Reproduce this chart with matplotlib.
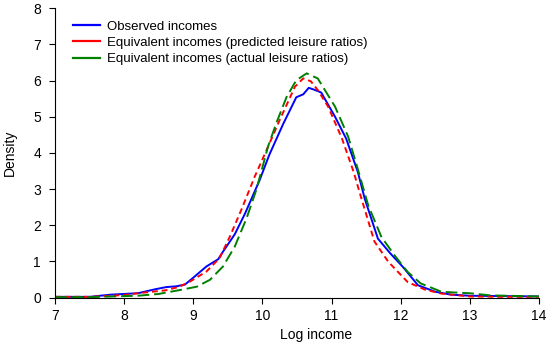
"""Density of log income: observed vs equivalent incomes."""

import numpy as np
import matplotlib
matplotlib.use('Agg')
import matplotlib.pyplot as plt
from matplotlib.lines import Line2D

plt.rcParams['font.family'] = ['Liberation Sans', 'DejaVu Sans']
plt.rcParams['font.size'] = 9.5

# Observed incomes
obs_x = [7.0, 7.5, 7.8, 8.0, 8.2, 8.45, 8.61, 8.75, 8.88, 9.0, 9.19, 9.36, 9.43,
         9.6, 9.75, 9.96, 10.1, 10.3, 10.49, 10.59, 10.67, 10.76, 10.85, 11.05,
         11.21, 11.38, 11.48, 11.67, 11.85, 12.03, 12.25, 12.5, 12.73, 13.0,
         13.5, 14.0]
obs_y = [0.02, 0.02, 0.08, 0.10, 0.12, 0.23, 0.29, 0.31, 0.36, 0.55, 0.86, 1.06,
         1.27, 1.75, 2.33, 3.25, 3.95, 4.80, 5.54, 5.62, 5.80, 5.74, 5.67, 5.00,
         4.40, 3.47, 2.73, 1.63, 1.22, 0.85, 0.34, 0.16, 0.08, 0.05, 0.04, 0.03]

# Equivalent incomes, predicted leisure ratios
pred_x = [7.0, 7.5, 8.0, 8.2, 8.6, 8.8, 8.95, 9.19, 9.38, 9.53, 9.7, 9.89,
          10.06, 10.25, 10.47, 10.59, 10.7, 10.8, 10.95, 11.15, 11.32, 11.43,
          11.62, 11.82, 12.1, 12.35, 12.59, 13.0, 13.5, 14.0]
pred_y = [0.02, 0.02, 0.07, 0.12, 0.20, 0.30, 0.44, 0.72, 1.09, 1.69, 2.45, 3.35,
          4.08, 4.91, 5.83, 6.06, 5.98, 5.74, 5.28, 4.40, 3.47, 2.75, 1.55, 0.99,
          0.43, 0.22, 0.11, 0.03, 0.02, 0.02]

# Equivalent incomes, actual leisure ratios
act_x = [7.0, 7.5, 8.0, 8.2, 8.5, 8.81, 9.05, 9.24, 9.43, 9.6, 9.77, 9.91, 9.99,
         10.08, 10.2, 10.35, 10.49, 10.64, 10.8, 11.05, 11.24, 11.38, 11.53,
         11.72, 11.91, 12.1, 12.29, 12.59, 12.88, 13.0, 13.3, 14.0]
act_y = [0.01, 0.01, 0.04, 0.05, 0.10, 0.21, 0.30, 0.49, 0.86, 1.41, 2.19, 2.97,
         3.53, 4.17, 4.82, 5.55, 6.01, 6.20, 6.06, 5.28, 4.45, 3.55, 2.55, 1.68,
         1.17, 0.71, 0.39, 0.16, 0.13, 0.12, 0.06, 0.03]

labels = ['Observed incomes',
          'Equivalent incomes (predicted leisure ratios)',
          'Equivalent incomes (actual leisure ratios)']
colors = ['#0000ff', '#ff0000', '#008000']

fig = plt.figure(figsize=(5.5, 3.44), dpi=100)
ax = fig.add_axes([0.1, 0.135, 0.88, 0.841])

ax.plot(obs_x, obs_y, color=colors[0], lw=1.4)
ax.plot(pred_x, pred_y, color=colors[1], lw=1.4, dashes=(3, 2))
ax.plot(act_x, act_y, color=colors[2], lw=1.4, dashes=(6, 2.5))

ax.set_xlim(7, 14)
ax.set_ylim(0, 8)
ax.set_xticks(np.arange(7, 15, 1))
ax.set_yticks(np.arange(0, 9, 1))
ax.set_xlabel('Log income', fontsize=10, labelpad=3)
ax.xaxis.set_label_coords(0.54, -0.105)
ax.set_ylabel('Density', fontsize=10, labelpad=12)
ax.spines['right'].set_visible(False)
ax.spines['top'].set_visible(False)
ax.tick_params(direction='out', length=4, width=0.8, labelsize=10)
ax.tick_params(axis='x', pad=4)
ax.tick_params(axis='y', pad=6)

# legend keys are drawn solid in the original
handles = [Line2D([], [], color=c, lw=1.6) for c in colors]
ax.legend(handles, labels, loc='upper left', bbox_to_anchor=(0.02, 0.985),
          frameon=False, handlelength=2.1, handletextpad=0.5,
          labelspacing=0.3, borderaxespad=0.2, fontsize=9.5)

plt.savefig('out.png', dpi=100)
